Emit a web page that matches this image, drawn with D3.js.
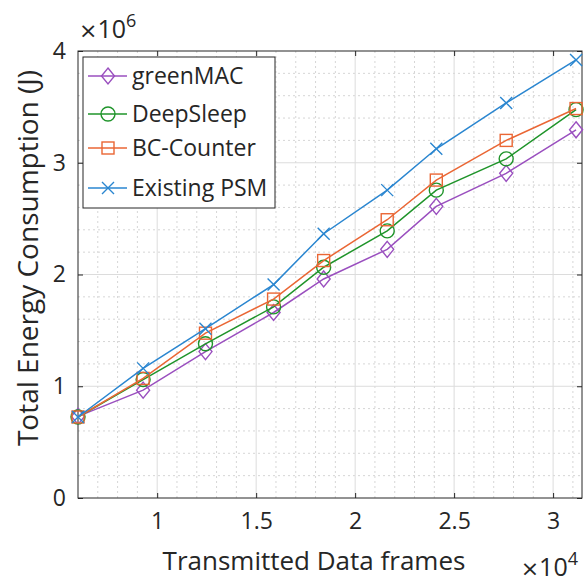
<!DOCTYPE html>
<html>
<head>
<meta charset="utf-8">
<script src="https://cdn.jsdelivr.net/npm/d3@7"></script>
<style>
  body { margin: 0; background: #fff; }
  svg text { font-family: "Open Sans", sans-serif; fill: #262626; }
</style>
</head>
<body>
<svg id="vis-svg"></svg>
<script>
// data (x in frames, y in joules)
const frames = [6000, 9290, 12440, 15880, 18410, 21620, 24100, 27630, 31160];
const greenMAC = [0.73e6, 0.965e6, 1.31e6, 1.66e6, 1.96e6, 2.225e6, 2.61e6, 2.905e6, 3.295e6];
const deepSleep = [0.725e6, 1.06e6, 1.38e6, 1.71e6, 2.065e6, 2.39e6, 2.755e6, 3.035e6, 3.475e6];
const bcCounter = [0.725e6, 1.07e6, 1.475e6, 1.78e6, 2.125e6, 2.49e6, 2.845e6, 3.2e6, 3.485e6];
const psm = [0.725e6, 1.16e6, 1.515e6, 1.91e6, 2.365e6, 2.755e6, 3.125e6, 3.535e6, 3.92e6];

const seriesNames = ["greenMAC", "DeepSleep", "BC-Counter", "Existing PSM"];
const seriesColors = ["#9a4fbf", "#1f942a", "#ea6634", "#2a86d0"];
const seriesMarkers = ["diamond", "circle", "square", "cross"];
const xTicks = [10000, 15000, 20000, 25000, 30000];
const yTicks = [0, 1e6, 2e6, 3e6, 4e6];

const series = [greenMAC, deepSleep, bcCounter, psm].map((vals, i) => ({
    name: seriesNames[i], color: seriesColors[i], marker: seriesMarkers[i],
    points: vals.map((v, j) => ({x: frames[j], y: v}))
}));

const W = 584, H = 582;
const margin = {top: 51, right: 2, bottom: 84, left: 78};
const width = W - margin.left - margin.right,
      height = H - margin.top - margin.bottom;

const svg = d3.select("#vis-svg").attr("width", W).attr("height", H);
const g = svg.append("g").attr("transform", "translate(" + margin.left + "," + margin.top + ")");

const x = d3.scaleLinear().domain([6000, 31460]).range([0, width]);
const y = d3.scaleLinear().domain([0, 4e6]).range([height, 0]);

// minor grid (dotted)
const xMinor = d3.range(7000, 31460, 1000).filter(v => v % 5000 !== 0);
const yMinor = d3.range(0.2e6, 4e6, 0.2e6).filter(v => Math.round(v / 1e5) % 10 !== 0);
g.append("g").selectAll("line").data(xMinor).enter().append("line")
    .attr("x1", d => x(d)).attr("x2", d => x(d)).attr("y1", 0).attr("y2", height)
    .attr("stroke", "#d6d6d6").attr("stroke-dasharray", "2,3").attr("stroke-width", 1);
g.append("g").selectAll("line").data(yMinor).enter().append("line")
    .attr("y1", d => y(d)).attr("y2", d => y(d)).attr("x1", 0).attr("x2", width)
    .attr("stroke", "#d6d6d6").attr("stroke-dasharray", "2,3").attr("stroke-width", 1);

// major grid
g.append("g").selectAll("line").data(xTicks).enter().append("line")
    .attr("x1", d => x(d)).attr("x2", d => x(d)).attr("y1", 0).attr("y2", height)
    .attr("stroke", "#dcdcdc").attr("stroke-width", 1);
g.append("g").selectAll("line").data(yTicks.slice(1, -1)).enter().append("line")
    .attr("y1", d => y(d)).attr("y2", d => y(d)).attr("x1", 0).attr("x2", width)
    .attr("stroke", "#dcdcdc").attr("stroke-width", 1);

// axes (ticks inside, box on)
const axisColor = "#262626";
function styleAxis(sel) {
    sel.select(".domain").remove();
    sel.selectAll(".tick line").attr("stroke", axisColor);
    sel.selectAll(".tick text").attr("fill", axisColor).style("font-size", "23px")
        .style("font-family", "'Open Sans', sans-serif");
}
g.append("g").attr("transform", "translate(0," + height + ")")
    .call(d3.axisBottom(x).tickValues(xTicks).tickFormat(d => d / 1e4).tickSizeInner(-5).tickPadding(15))
    .call(styleAxis);
g.append("g")
    .call(d3.axisTop(x).tickValues(xTicks).tickFormat("").tickSizeInner(-5))
    .call(styleAxis);
g.append("g")
    .call(d3.axisLeft(y).tickValues(yTicks).tickFormat(d => d / 1e6).tickSizeInner(-5).tickPadding(12))
    .call(styleAxis);
g.append("g").attr("transform", "translate(" + width + ",0)")
    .call(d3.axisRight(y).tickValues(yTicks).tickFormat("").tickSizeInner(-5))
    .call(styleAxis);

g.append("rect").attr("x", 0).attr("y", 0).attr("width", width).attr("height", height)
    .attr("fill", "none").attr("stroke", axisColor).attr("stroke-width", 1);

// lines + markers
const line = d3.line().x(d => x(d.x)).y(d => y(d.y));

function drawMarker(sel, type, color) {
    if (type === "diamond") {
        sel.append("path").attr("d", "M0,-8L6.5,0L0,8L-6.5,0Z");
    } else if (type === "circle") {
        sel.append("circle").attr("r", 7);
    } else if (type === "square") {
        sel.append("rect").attr("x", -6).attr("y", -6).attr("width", 12).attr("height", 12);
    } else {
        sel.append("path").attr("d", "M-6,-6L6,6M-6,6L6,-6");
    }
    sel.selectAll("*").attr("fill", "none").attr("stroke", color).attr("stroke-width", 1.4);
}

const plot = g.append("g");
series.forEach(s => {
    plot.append("path").datum(s.points)
        .attr("d", line).attr("fill", "none")
        .attr("stroke", s.color).attr("stroke-width", 1.5);
    plot.selectAll(null).data(s.points).enter().append("g")
        .attr("transform", d => "translate(" + x(d.x) + "," + y(d.y) + ")")
        .each(function() { drawMarker(d3.select(this), s.marker, s.color); });
});

// exponent labels
const e6 = svg.append("text").attr("x", 79).attr("y", 38).style("font-size", "25px");
e6.append("tspan").style("font-family", "'DejaVu Sans', sans-serif").style("font-size", "22px").text("\u00d7");
e6.append("tspan").text("10");
e6.append("tspan").attr("dy", -11).style("font-size", "18px").text("6");

const e4 = svg.append("text").attr("x", 578).attr("y", 576)
    .style("text-anchor", "end").style("font-size", "25px");
e4.append("tspan").style("font-family", "'DejaVu Sans', sans-serif").style("font-size", "22px").text("\u00d7");
e4.append("tspan").text("10");
e4.append("tspan").attr("dy", -11).style("font-size", "18px").text("4");

// axis labels
svg.append("text")
    .attr("x", 314).attr("y", 570)
    .style("text-anchor", "middle").style("font-size", "26px")
    .text("Transmitted Data frames");

svg.append("text")
    .attr("transform", "translate(38,258) rotate(-90)")
    .style("text-anchor", "middle").style("font-size", "28px")
    .text("Total Energy Consumption (J)");

// legend
const legend = g.append("g").attr("transform", "translate(5,6)");
legend.append("rect").attr("x", 0).attr("y", 0).attr("width", 192).attr("height", 151)
    .attr("fill", "#fff").attr("stroke", axisColor).attr("stroke-width", 1);
const legendRows = [19, 57, 91, 131];
series.forEach((s, i) => {
    const row = legend.append("g").attr("transform", "translate(0," + legendRows[i] + ")");
    row.append("line").attr("x1", 5).attr("x2", 44).attr("y1", 0).attr("y2", 0)
        .attr("stroke", s.color).attr("stroke-width", 1.5);
    const m = row.append("g").attr("transform", "translate(25,0)");
    drawMarker(m, s.marker, s.color);
    row.append("text").attr("x", 49).attr("y", 8).style("font-size", "23px").text(s.name);
});
</script>
</body>
</html>
